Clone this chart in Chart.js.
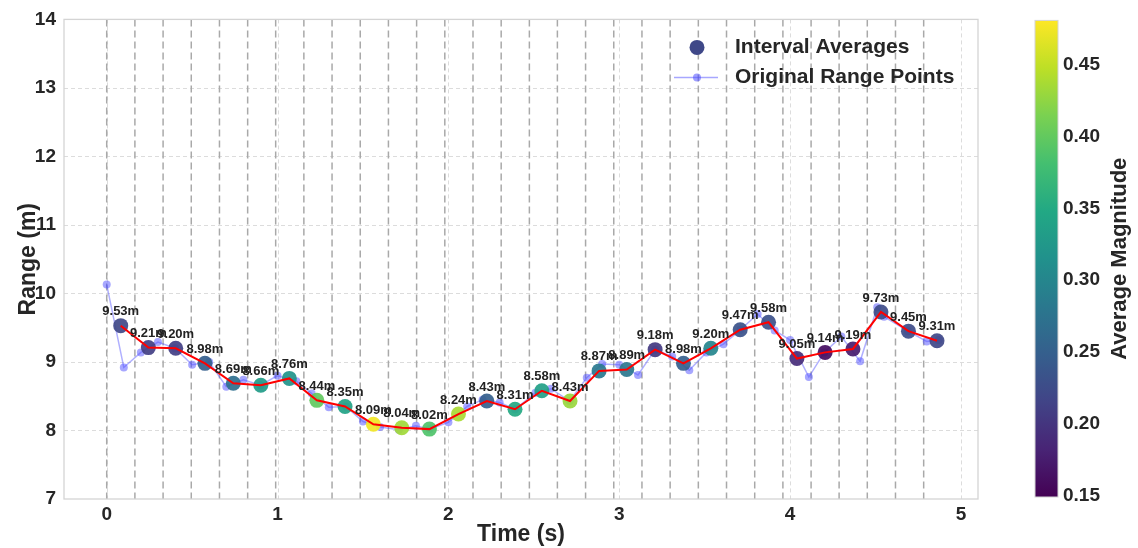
<!DOCTYPE html>
<html>
<head>
<meta charset="utf-8">
<script src="https://cdn.jsdelivr.net/npm/chart.js@4.4.1/dist/chart.umd.min.js"></script>
<style>
  html, body { margin: 0; padding: 0; background: #fff; }
</style>
</head>
<body>
<canvas id="chart" width="1138" height="548"></canvas>
<script>
// raw range samples (s, m)
const origTime = [0.00, 0.10, 0.20, 0.30, 0.40, 0.50, 0.60, 0.70, 0.80, 0.90,
  1.00, 1.11, 1.20, 1.30, 1.40, 1.50, 1.60, 1.71, 1.81, 1.89,
  2.00, 2.11, 2.20, 2.30, 2.39, 2.51, 2.60, 2.71, 2.81, 2.90,
  3.00, 3.11, 3.21, 3.31, 3.41, 3.51, 3.61, 3.71, 3.81, 3.91,
  4.00, 4.11, 4.20, 4.30, 4.41, 4.51, 4.55, 4.69, 4.80, 4.87];
const origRange = [10.13, 8.92, 9.14, 9.29, 9.20, 8.96, 9.00, 8.64, 8.74, 8.66,
  8.80, 8.72, 8.54, 8.34, 8.35, 8.13, 8.05, 8.01, 8.07, 8.02,
  8.12, 8.35, 8.45, 8.41, 8.31, 8.55, 8.61, 8.43, 8.77, 8.97,
  8.96, 8.81, 9.18, 9.08, 8.88, 9.14, 9.26, 9.47, 9.70, 9.46,
  9.32, 8.78, 9.14, 9.37, 9.01, 9.80, 9.66, 9.45, 9.30, 9.32];

// interval averages
const avgTime = [0.082, 0.244, 0.404, 0.575, 0.741, 0.902, 1.069, 1.230, 1.395, 1.561,
  1.727, 1.889, 2.059, 2.225, 2.390, 2.547, 2.712, 2.882, 3.044, 3.210,
  3.376, 3.536, 3.708, 3.874, 4.040, 4.205, 4.368, 4.532, 4.693, 4.860];
const avgRange = [9.53, 9.21, 9.20, 8.98, 8.69, 8.66, 8.76, 8.44, 8.35, 8.09,
  8.04, 8.02, 8.24, 8.43, 8.31, 8.58, 8.43, 8.87, 8.89, 9.18,
  8.98, 9.20, 9.47, 9.58, 9.05, 9.14, 9.19, 9.73, 9.45, 9.31];
const avgMagnitude = [0.22, 0.21, 0.21, 0.25, 0.27, 0.33, 0.32, 0.40, 0.34, 0.475,
  0.434, 0.388, 0.438, 0.25, 0.35, 0.335, 0.43, 0.282, 0.28, 0.205,
  0.25, 0.30, 0.232, 0.23, 0.192, 0.16, 0.175, 0.225, 0.225, 0.22];

// interval boundaries (dashed verticals)
const intervalEdges = [0, 0.165, 0.330, 0.495, 0.660, 0.825, 0.989, 1.154, 1.319, 1.484,
  1.649, 1.814, 1.979, 2.144, 2.309, 2.474, 2.638, 2.803, 2.968, 3.133,
  3.298, 3.463, 3.628, 3.793, 3.958, 4.123, 4.287, 4.452, 4.617, 4.782];

const xTicks = [0, 1, 2, 3, 4, 5];
const yTicks = [7, 8, 9, 10, 11, 12, 13, 14];
const cbarTicks = [0.15, 0.20, 0.25, 0.30, 0.35, 0.40, 0.45];
const magMin = 0.149, magMax = 0.481;

const FONT = '"Liberation Sans", Arial, sans-serif';
const TXT = '#262626';

const viridis = ['#440154', '#482475', '#414487', '#355f8d', '#2a788e', '#21918c',
  '#22a884', '#44bf70', '#7ad151', '#bddf26', '#fde725'];

function hexRgb(h) {
  return [parseInt(h.slice(1, 3), 16), parseInt(h.slice(3, 5), 16), parseInt(h.slice(5, 7), 16)];
}

function viridisAt(f) {
  f = Math.min(1, Math.max(0, f));
  const p = f * (viridis.length - 1);
  const i = Math.min(Math.floor(p), viridis.length - 2);
  const k = p - i;
  const a = hexRgb(viridis[i]), b = hexRgb(viridis[i + 1]);
  return a.map((v, j) => Math.round(v + (b[j] - v) * k));
}

function magColor(m, alpha = 0.92) {
  const c = viridisAt((m - magMin) / (magMax - magMin));
  return `rgba(${c[0]},${c[1]},${c[2]},${alpha})`;
}

const origPts = origTime.map((t, i) => ({ x: t, y: origRange[i] }));
const avgPts = avgTime.map((t, i) => ({ x: t, y: avgRange[i] }));

const decor = {
  id: 'decor',
  beforeDatasetsDraw(chart) {
    const { ctx, chartArea: a, scales: { x, y } } = chart;
    ctx.save();
    ctx.beginPath();
    ctx.rect(a.left, a.top, a.right - a.left, a.bottom - a.top);
    ctx.clip();

    // light grid
    ctx.strokeStyle = '#dcdcdc';
    ctx.lineWidth = 1;
    ctx.setLineDash([4, 3]);
    yTicks.forEach((v) => {
      const py = Math.round(y.getPixelForValue(v)) + 0.5;
      ctx.beginPath(); ctx.moveTo(a.left, py); ctx.lineTo(a.right, py); ctx.stroke();
    });
    xTicks.forEach((v) => {
      const px = Math.round(x.getPixelForValue(v)) + 0.5;
      ctx.beginPath(); ctx.moveTo(px, a.top); ctx.lineTo(px, a.bottom); ctx.stroke();
    });

    // interval lines
    ctx.strokeStyle = '#a9a9a9';
    ctx.lineWidth = 1.5;
    ctx.setLineDash([7, 4]);
    intervalEdges.forEach((v) => {
      const px = x.getPixelForValue(v);
      ctx.beginPath(); ctx.moveTo(px, a.top); ctx.lineTo(px, a.bottom); ctx.stroke();
    });
    ctx.restore();

    // frame
    ctx.save();
    ctx.strokeStyle = '#d4d4d4';
    ctx.lineWidth = 1.3;
    ctx.strokeRect(a.left, a.top, a.right - a.left, a.bottom - a.top);
    ctx.restore();
  },

  afterDatasetsDraw(chart) {
    const { ctx, scales: { x, y } } = chart;
    ctx.save();
    ctx.font = 'bold 13px ' + FONT;
    ctx.fillStyle = '#222';
    ctx.textAlign = 'center';
    ctx.textBaseline = 'middle';
    avgTime.forEach((t, i) => {
      ctx.fillText(avgRange[i].toFixed(2) + 'm', x.getPixelForValue(t), y.getPixelForValue(avgRange[i]) - 14);
    });
    ctx.restore();
  },

  afterDraw(chart) {
    const { ctx, chartArea: a } = chart;
    ctx.save();

    // legend
    const lx = a.right - 281, ly1 = a.top + 28, ly2 = a.top + 58;
    ctx.fillStyle = magColor(0.22, 1);
    ctx.beginPath(); ctx.arc(lx, ly1, 7.5, 0, Math.PI * 2); ctx.fill();
    ctx.strokeStyle = 'rgba(80,80,255,0.5)';
    ctx.lineWidth = 1.5;
    ctx.beginPath(); ctx.moveTo(lx - 23, ly2); ctx.lineTo(lx + 21, ly2); ctx.stroke();
    ctx.fillStyle = 'rgba(80,80,255,0.55)';
    ctx.beginPath(); ctx.arc(lx, ly2, 4, 0, Math.PI * 2); ctx.fill();
    ctx.fillStyle = TXT;
    ctx.font = 'bold 21px ' + FONT;
    ctx.textAlign = 'left';
    ctx.textBaseline = 'middle';
    ctx.fillText('Interval Averages', lx + 38, ly1);
    ctx.fillText('Original Range Points', lx + 38, ly2);

    // colorbar
    const cx = 1035, cw = 23, ct = a.top + 1, cb = a.bottom - 2;
    const grad = ctx.createLinearGradient(0, cb, 0, ct);
    viridis.forEach((c, i) => grad.addColorStop(i / (viridis.length - 1), c));
    ctx.fillStyle = grad;
    ctx.fillRect(cx, ct, cw, cb - ct);
    ctx.strokeStyle = '#d4d4d4';
    ctx.lineWidth = 1;
    ctx.strokeRect(cx, ct, cw, cb - ct);

    ctx.fillStyle = TXT;
    ctx.font = 'bold 19px ' + FONT;
    cbarTicks.forEach((v) => {
      const py = cb - (v - magMin) / (magMax - magMin) * (cb - ct);
      ctx.fillText(v.toFixed(2), cx + cw + 5, py);
    });

    ctx.translate(1120, (ct + cb) / 2);
    ctx.rotate(-Math.PI / 2);
    ctx.textAlign = 'center';
    ctx.font = 'bold 22px ' + FONT;
    ctx.fillText('Average Magnitude', 0, 0);
    ctx.restore();
  }
};

new Chart(document.getElementById('chart'), {
  type: 'scatter',
  data: {
    datasets: [
      {
        label: 'Trend',
        data: avgPts,
        showLine: true,
        borderColor: '#ff0000',
        borderWidth: 2,
        pointRadius: 0,
        order: 1
      },
      {
        label: 'Interval Averages',
        data: avgPts,
        pointRadius: 7.5,
        pointBorderWidth: 0,
        pointBackgroundColor: avgMagnitude.map((m) => magColor(m)),
        order: 2
      },
      {
        label: 'Original Range Points',
        data: origPts,
        showLine: true,
        borderColor: 'rgba(80,80,255,0.45)',
        borderWidth: 1.5,
        pointRadius: 4,
        pointBorderWidth: 0,
        pointBackgroundColor: 'rgba(80,80,255,0.5)',
        order: 3
      }
    ]
  },
  options: {
    responsive: false,
    animation: false,
    devicePixelRatio: 1,
    layout: { padding: { top: 5, right: 160, bottom: 0, left: 0 } },
    plugins: {
      legend: { display: false },
      tooltip: { enabled: false }
    },
    scales: {
      x: {
        type: 'linear',
        min: -0.25,
        max: 5.1,
        grid: { display: false, drawTicks: false },
        border: { display: false },
        ticks: {
          stepSize: 1,
          includeBounds: false,
          padding: 4,
          color: TXT,
          font: { family: FONT, size: 19, weight: 'bold' }
        },
        title: {
          display: true,
          text: 'Time (s)',
          color: TXT,
          padding: { top: 0, bottom: 0 },
          font: { family: FONT, size: 23, weight: 'bold' }
        },
        afterFit(scale) { scale.height = 49; }
      },
      y: {
        min: 7,
        max: 14,
        grid: { display: false, drawTicks: false },
        border: { display: false },
        ticks: {
          stepSize: 1,
          padding: 8,
          color: TXT,
          font: { family: FONT, size: 19, weight: 'bold' }
        },
        title: {
          display: true,
          text: 'Range (m)',
          color: TXT,
          padding: { top: 15, bottom: 0 },
          font: { family: FONT, size: 23, weight: 'bold' }
        },
        afterFit(scale) { scale.width = 64; }
      }
    }
  },
  plugins: [decor]
});
</script>
</body>
</html>
